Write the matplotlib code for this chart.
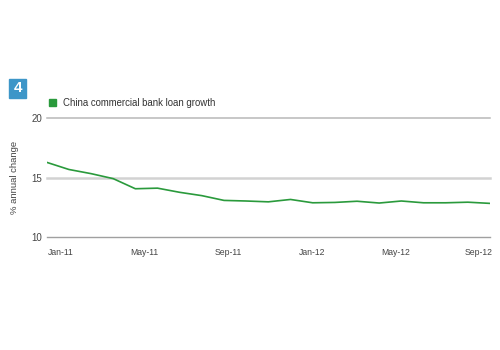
import matplotlib
matplotlib.use("Agg")
import matplotlib.pyplot as plt
from matplotlib.patches import Rectangle

plt.rcParams['font.family'] = ['Liberation Sans', 'DejaVu Sans']

months = ["Jan-11", "Feb-11", "Mar-11", "Apr-11", "May-11", "Jun-11", "Jul-11",
          "Aug-11", "Sep-11", "Oct-11", "Nov-11", "Dec-11", "Jan-12", "Feb-12",
          "Mar-12", "Apr-12", "May-12", "Jun-12", "Jul-12", "Aug-12", "Sep-12"]
loan_growth = [16.3, 15.7, 15.35, 14.93, 14.08, 14.13, 13.78, 13.5, 13.1, 13.05,
               12.98, 13.18, 12.9, 12.93, 13.03, 12.88, 13.05, 12.9, 12.9, 12.95, 12.85]
tick_labels = ["Jan-11", "May-11", "Sep-11", "Jan-12", "May-12", "Sep-12"]
y_ticks = [10, 15, 20]
series_name = "China commercial bank loan growth"
chart_number = "4"

fig = plt.figure(figsize=(5, 3.5), dpi=100)
ax = fig.add_axes([0.0934, 0.322, 0.8866, 0.34])

green = "#2a9a3c"
x = list(range(len(months)))
ax.plot(x, loan_growth, color=green, lw=1.2, solid_joinstyle="round", zorder=3)

ax.set_xlim(0, len(months) - 1)
ax.set_ylim(10, 20)

# horizontal grid lines
ax.axhline(20, color="#b8b8b8", lw=1.1, zorder=1, clip_on=False)
ax.axhline(15, color="#d2d2d2", lw=1.8, zorder=1, clip_on=False)
ax.axhline(10, color="#a0a0a0", lw=1.0, zorder=1, clip_on=False)

for s in ax.spines.values():
    s.set_visible(False)

ax.set_yticks(y_ticks)
ax.set_yticklabels([str(v) for v in y_ticks], fontsize=7, color="#444444")
ax.tick_params(axis="y", length=0, pad=3)

# tick label positions sit slightly off the monthly points, as in the reference
tick_pos = [0.65 + 3.77 * k for k in range(len(tick_labels))]
ax.set_xticks(tick_pos)
ax.set_xticklabels(tick_labels, fontsize=6.2, color="#444444")
ax.tick_params(axis="x", length=0, pad=8)

ax.set_ylabel("% annual change", fontsize=6.8, color="#444444", labelpad=9)

# legend
fig.patches.append(Rectangle((48.7 / 500, 1 - 106.3 / 350), 7 / 500, 7 / 350,
                             transform=fig.transFigure, color=green, zorder=5))
fig.text(63 / 500, 1 - 103 / 350, series_name, fontsize=6.9, color="#333333",
         va="center", ha="left")

# chart number badge
fig.patches.append(Rectangle((9 / 500, 1 - 98 / 350), 17 / 500, 19 / 350,
                             transform=fig.transFigure, color="#3d96c8", zorder=5))
fig.text(17.5 / 500, 1 - 88.5 / 350, chart_number, fontsize=11, color="white",
         fontweight="bold", ha="center", va="center", zorder=6)

fig.savefig("out.png", dpi=100)
